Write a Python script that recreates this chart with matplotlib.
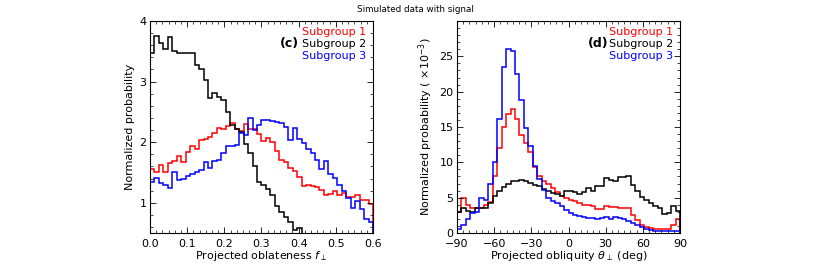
import numpy as np
import matplotlib
matplotlib.use('Agg')
import matplotlib.pyplot as plt
from matplotlib.ticker import MultipleLocator

# histogram values (50 bins per panel)
labels = ['Subgroup 1', 'Subgroup 2', 'Subgroup 3']
colors = ['red', 'black', 'blue']

# panel (c): projected oblateness, 0 - 0.6
obl_sub1 = [1.55, 1.51, 1.62, 1.51, 1.65, 1.69, 1.77, 1.68, 1.83, 1.94,
            1.88, 2.03, 2.05, 2.09, 2.15, 2.23, 2.21, 2.26, 2.31, 2.22,
            2.19, 2.30, 2.22, 2.22, 2.13, 2.02, 2.07, 2.00, 1.85, 1.71,
            1.68, 1.58, 1.53, 1.42, 1.28, 1.29, 1.27, 1.26, 1.21, 1.12,
            1.14, 1.20, 1.12, 1.16, 1.10, 1.10, 1.12, 1.04, 1.04, 0.98]
obl_sub2 = [3.47, 3.76, 3.63, 3.54, 3.73, 3.50, 3.48, 3.48, 3.47, 3.48,
            3.27, 3.20, 3.03, 2.73, 2.81, 2.75, 2.70, 2.50, 2.28, 2.22,
            2.17, 1.97, 1.82, 1.60, 1.35, 1.30, 1.23, 1.12, 0.95, 0.85,
            0.77, 0.68, 0.55, 0.58, 0.45, 0.42, 0.40, 0.38, 0.35, 0.33,
            0.30, 0.28, 0.26, 0.24, 0.22, 0.20, 0.19, 0.18, 0.17, 0.16]
obl_sub3 = [1.34, 1.41, 1.32, 1.30, 1.25, 1.50, 1.37, 1.39, 1.44, 1.48,
            1.50, 1.54, 1.67, 1.58, 1.69, 1.71, 1.82, 1.93, 1.94, 1.96,
            2.15, 2.12, 2.40, 2.20, 2.28, 2.36, 2.36, 2.35, 2.34, 2.32,
            2.25, 2.04, 2.24, 2.05, 1.98, 1.88, 1.82, 1.70, 1.56, 1.69,
            1.48, 1.41, 1.30, 1.19, 1.07, 0.92, 1.03, 0.89, 0.73, 0.69]

# panel (d): projected obliquity, -90 - 90 deg (units of 1e-3)
obq_sub1 = [3.0, 4.94, 4.0, 3.5, 3.5, 3.6, 4.0, 4.4, 8.0, 12.0,
            15.0, 16.8, 17.6, 16.2, 13.9, 12.7, 11.5, 9.3, 8.0, 7.3,
            6.9, 6.4, 5.8, 5.3, 5.0, 4.7, 4.56, 4.23, 4.0, 4.0,
            3.76, 3.39, 3.39, 3.86, 3.67, 3.67, 3.53, 3.53, 3.53, 2.59,
            1.79, 1.18, 0.85, 0.7, 0.56, 0.56, 0.56, 0.6, 1.18, 1.97]
obq_sub2 = [3.0, 3.55, 3.1, 3.0, 3.5, 3.5, 3.5, 4.2, 5.2, 6.0,
            6.5, 7.0, 7.3, 7.4, 7.5, 7.4, 7.05, 6.8, 6.6, 6.2,
            5.9, 5.7, 5.5, 5.3, 5.9, 5.9, 5.74, 5.55, 5.74, 6.35,
            6.0, 6.68, 6.7, 7.76, 7.52, 7.29, 7.9, 7.9, 8.0, 6.8,
            5.88, 5.08, 4.7, 4.23, 3.76, 3.53, 2.73, 2.82, 3.76, 3.06]
obq_sub3 = [0.6, 1.15, 2.05, 2.82, 2.96, 5.0, 4.7, 6.9, 10.1, 16.1,
            23.5, 26.1, 25.8, 22.5, 18.8, 14.8, 12.3, 9.5, 7.6, 6.1,
            5.0, 4.5, 4.2, 3.76, 3.3, 2.9, 2.6, 2.44, 2.26, 2.12,
            2.12, 1.97, 2.1, 2.26, 1.97, 2.26, 2.12, 1.97, 1.65, 1.41,
            1.18, 0.85, 0.56, 0.47, 0.33, 0.28, 0.24, 0.24, 0.24, 0.24]

plt.rcParams['font.family'] = ['DejaVu Sans']
plt.rcParams['font.size'] = 8
plt.rcParams['mathtext.fontset'] = 'dejavusans'

fig = plt.figure(figsize=(8.3, 2.66), dpi=100)
ax1 = fig.add_axes([0.1807, 0.124, 0.2687, 0.797])
ax2 = fig.add_axes([0.5506, 0.124, 0.2687, 0.797])

fig.text(0.5, 0.963, 'Simulated data with signal', ha='center', va='center', fontsize=6.3)

# left panel
edges1 = np.linspace(0, 0.6, len(obl_sub1) + 1)
for vals, c in zip([obl_sub1, obl_sub2, obl_sub3], colors):
    ax1.stairs(vals, edges1, color=c, lw=1.1)
ax1.set_xlim(0, 0.6)
ax1.set_ylim(0.5, 4)
ax1.set_yticks([1, 2, 3, 4])
ax1.xaxis.set_major_locator(MultipleLocator(0.1))
ax1.xaxis.set_minor_locator(MultipleLocator(0.1 / 6))
ax1.yaxis.set_minor_locator(MultipleLocator(0.2))
ax1.set_xlabel(r'Projected oblateness $f_\perp$', labelpad=0.5)
ax1.set_ylabel('Normalized probability', labelpad=3)

# right panel
edges2 = np.linspace(-90, 90, len(obq_sub1) + 1)
for vals, c in zip([obq_sub1, obq_sub2, obq_sub3], colors):
    ax2.stairs(vals, edges2, color=c, lw=1.1)
ax2.set_xlim(-90, 90)
ax2.set_ylim(0, 30)
ax2.set_yticks([0, 5, 10, 15, 20, 25])
ax2.xaxis.set_major_locator(MultipleLocator(30))
ax2.xaxis.set_minor_locator(MultipleLocator(5))
ax2.yaxis.set_minor_locator(MultipleLocator(1))
ax2.set_xlabel(r'Projected obliquity $\theta_\perp$ (deg)', labelpad=0.5)
ax2.set_ylabel(r'Normalized probability ( $\times10^{-3}$)', labelpad=3)

for ax, tag, tagx in [(ax1, '(c)', 0.666), (ax2, '(d)', 0.679)]:
    ax.tick_params(which='both', direction='in', top=True, right=True, labelsize=8)
    ax.tick_params(which='major', length=4, width=0.6)
    ax.tick_params(which='minor', length=2, width=0.5)
    ax.tick_params(axis='x', which='major', pad=4)
    ax.tick_params(axis='y', which='major', pad=2.5)
    for s in ax.spines.values():
        s.set_linewidth(0.8)
    for i, (lab, c) in enumerate(zip(labels, colors)):
        ax.text(0.97, 0.948 - i * 0.056, lab, color=c, fontsize=8,
                ha='right', va='center', transform=ax.transAxes)
    ax.text(tagx, 0.892, tag, fontsize=9, fontweight='bold',
            ha='right', va='center', transform=ax.transAxes)

fig.savefig('out.png', dpi=100)
